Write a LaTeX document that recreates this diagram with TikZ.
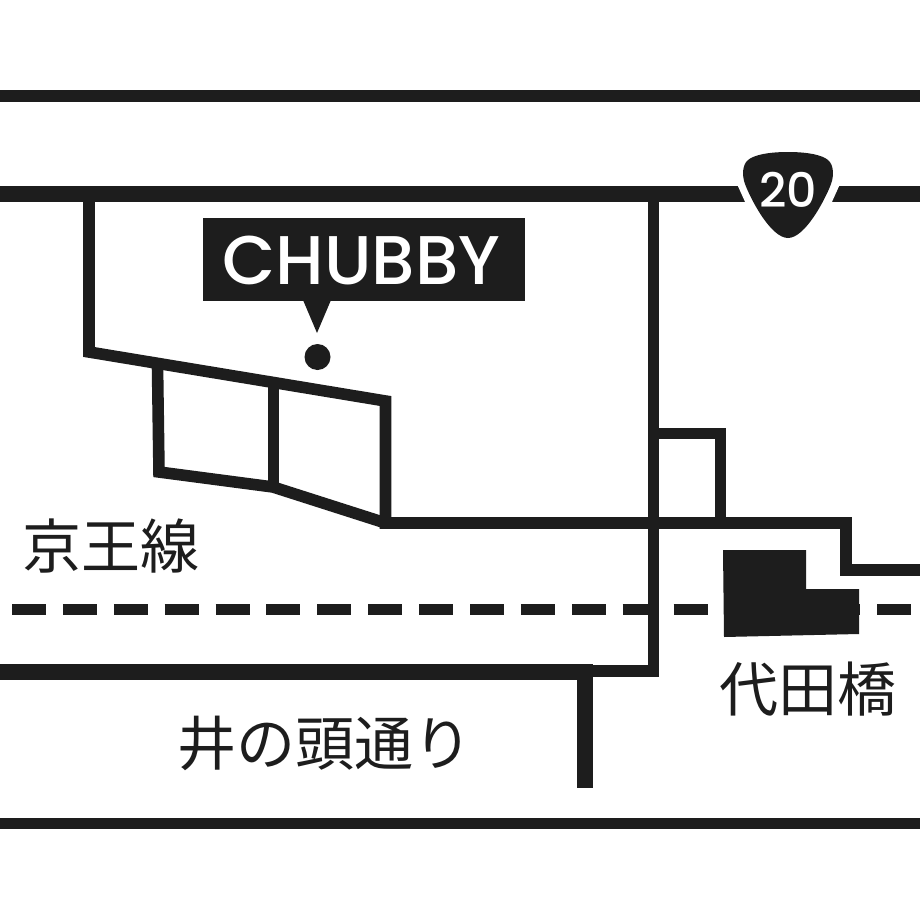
\documentclass[tikz,border=0pt]{standalone}
\usepackage{fontspec}
\setmainfont{Poppins}
\newfontfamily\marca{Poppins Medium}
\newfontfamily\cjk{Noto Sans CJK JP}
\definecolor{tinta}{RGB}{29,29,29}
\usetikzlibrary{positioning}
\tikzset{
  calle/.style={draw=tinta, line width=3.3pt, line join=miter},
  avenida/.style={draw=tinta, line width=4.55pt},
  lugar/.style={font=\cjk\fontsize{16.8}{16.8}\selectfont, text=tinta, inner sep=0pt},
}
\begin{document}
\begin{tikzpicture}[x=0.1mm, y=-0.1mm]
      \useasboundingbox (0,0) rectangle (920,920);
      \fill[white] (0,0) rectangle (920,920);

      % Calles
      \draw[calle] (0,96) -- (920,96);
      \draw[calle] (0,823.5) -- (920,823.5);
      \draw[avenida] (0,194) -- (920,194);
      \draw[calle] (89,194) -- (89,352) -- (385.5,401) -- (385.5,523) -- (846,523) -- (846,570) -- (920,570);
      \draw[calle] (157.5,366) -- (159,472) -- (273,487) -- (385.5,523);
      \draw[calle] (273.5,383) -- (273.5,487);
      \draw[calle] (654,433.5) -- (720.5,433.5) -- (720.5,523);

      % Linea de tren
      \draw[tinta, line width=3.3pt, dash pattern=on 9.67pt off 4.81pt] (12,609.5) -- (911,609.5);

      \draw[calle] (653.5,194) -- (653.5,671) -- (590,671);
      \draw[avenida] (0,672) -- (593,672);
      \draw[avenida] (585,672) -- (585,788);

      % Estacion
      \fill[tinta] (723,550) -- (806,550) -- (806,589) -- (859,589) -- (859,634) -- (724,637) -- cycle;

      % Ruta 20
      \fill[white] (737,184) -- (746,204) -- (831,204) -- (840,184) -- cycle;
      \fill[tinta] (788,152) .. controls (808,152) and (822,155) .. (828,160)
        .. controls (834,165) and (834,176) .. (831,184)
        .. controls (825,200) and (805,238) .. (788,238)
        .. controls (771,238) and (751,200) .. (745,184)
        .. controls (742,176) and (742,165) .. (748,160)
        .. controls (754,155) and (768,152) .. (788,152) -- cycle;
      \node[text=white, font=\marca\fontsize{13.5}{13.5}\selectfont, inner sep=0pt] (ruta) at (788.5,190) {20};

      % Cartel
      \node[fill=tinta, minimum width=322*0.2845pt, minimum height=83*0.2845pt, inner sep=0pt] (cartel) at (364,259.5) {};
      \node[text=white, inner sep=0pt, font=\marca\fontsize{19.6}{19.6}\selectfont] (marca) at (361.5,260) {CHUBBY};
      \fill[tinta] (303,300) -- (331,300) -- (317,333) -- cycle;
      \fill[tinta] (317.5,357) circle (13);

      % Nombres
      \node[lugar] (keio) at (111,546) {京王線};
      \node[lugar] (daita) at (808,689) {代田橋};
      \node[lugar] (inokashira) at (325,743) {井の頭通り};
\end{tikzpicture}
\end{document}
